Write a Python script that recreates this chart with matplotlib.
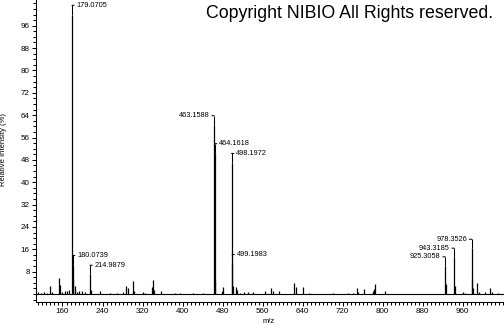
import numpy as np
import matplotlib
matplotlib.use('Agg')
import matplotlib.pyplot as plt
from matplotlib.ticker import MultipleLocator, FixedLocator

plt.rcParams['font.family'] = ['Liberation Sans', 'DejaVu Sans']

# peak list (m/z, relative intensity %)
peak_mz = [112, 118, 124, 130, 135, 140, 152.4, 155, 160, 165, 169.7, 172.5,
           179.0705, 180.0739, 181.5, 185.7, 189, 193, 198, 205,
           214.9879, 217, 235, 255, 268, 280, 287, 290, 301.7, 303, 321, 325,
           339.5, 341.7, 343, 356, 385, 395, 420, 440,
           463.1588, 464.1618, 465.2, 479.5, 481.7, 498.1972, 499.1983, 500.2,
           506, 509, 515, 523.6, 531, 541, 565, 577, 580, 593.7, 623, 626, 640, 652,
           700, 730, 741.7, 748, 751, 763, 781.7, 783.7, 785.7, 804,
           925.3058, 926.3, 943.3185, 944.3, 961.7, 965,
           978.3526, 979.35, 981, 988, 992, 1005, 1015, 1019, 1030]
peak_int = [0.6, 0.5, 0.7, 0.5, 3.0, 0.6, 5.8, 3.3, 0.6, 1.0, 1.2, 1.5,
            100, 10.5, 5.0, 2.7, 0.7, 1.0, 1.2, 0.8,
            7.0, 1.5, 1.0, 0.4, 0.5, 0.6, 2.7, 2.0, 4.6, 1.2, 0.8, 0.5,
            2.5, 5.0, 1.5, 1.2, 0.4, 0.3, 0.4, 0.3,
            60.5, 50.5, 5.0, 1.2, 2.4, 47.0, 10.8, 3.0,
            2.4, 1.4, 0.5, 0.6, 0.8, 0.6, 1.0, 2.0, 1.2, 1.2, 4.1, 2.4, 2.4, 0.5,
            0.3, 0.4, 0.5, 2.3, 0.8, 1.7, 1.0, 1.7, 3.6, 1.2,
            10.0, 3.5, 13.1, 3.0, 0.8, 0.5,
            16.3, 5.5, 2.0, 3.8, 0.8, 0.8, 2.0, 0.6, 0.4]

# labelled peaks and which side the label sits on
label_mz = [179.0705, 180.0739, 214.9879, 463.1588, 464.1618, 498.1972,
            499.1983, 925.3058, 943.3185, 978.3526]
label_side = ['right', 'right', 'right', 'left', 'right', 'right',
              'right', 'left', 'left', 'left']

fig = plt.figure(figsize=(5.04, 3.25), dpi=100)
ax = fig.add_axes([36 / 504, 23.3 / 325, 468 / 504, 301.7 / 325])

ax.axhline(0, color='black', lw=0.8, zorder=2)
ax.vlines(peak_mz, 0, peak_int, color='black', lw=0.9, zorder=3)

lab_off = 3.3
for mz, side in zip(label_mz, label_side):
    h = peak_int[peak_mz.index(mz)]
    ly = h + lab_off
    ax.vlines(mz, h, ly, color='black', lw=0.75)
    sgn = 1 if side == 'right' else -1
    ax.annotate('', xy=(mz, ly), xytext=(sgn * 1.6, 0), textcoords='offset points',
                arrowprops=dict(arrowstyle='-', lw=0.75, color='black',
                                shrinkA=0, shrinkB=0))
    ax.annotate('%.4f' % mz, xy=(mz, ly), xytext=(sgn * 3.2, 0),
                textcoords='offset points', fontsize=5.3,
                ha='left' if side == 'right' else 'right', va='center')

ax.set_xlim(107, 1043)
ax.set_ylim(-2.75, 105.2)

ax.xaxis.set_major_locator(FixedLocator(np.arange(160, 1000, 80)))
ax.xaxis.set_minor_locator(MultipleLocator(8))
ax.yaxis.set_major_locator(FixedLocator(np.arange(8, 100, 8)))
ax.yaxis.set_minor_locator(MultipleLocator(2))
ax.tick_params(axis='both', which='major', length=3, width=0.75, labelsize=5.8, pad=1.5)
ax.tick_params(axis='both', which='minor', length=2, width=0.75)

for s in ['top', 'right']:
    ax.spines[s].set_visible(False)
for s in ['left', 'bottom']:
    ax.spines[s].set_linewidth(0.75)

ax.set_xlabel('m/z', fontsize=5.5)
ax.set_ylabel('Relative Intensity (%)', fontsize=5.5)
ax.xaxis.set_label_coords(0.496, -0.054)
ax.yaxis.set_label_coords(-0.062, 0.503)

fig.text(206 / 504, 306.5 / 325, 'Copyright NIBIO All Rights reserved.',
         fontsize=12.8, ha='left', va='baseline')

fig.savefig('out.png', dpi=100)
